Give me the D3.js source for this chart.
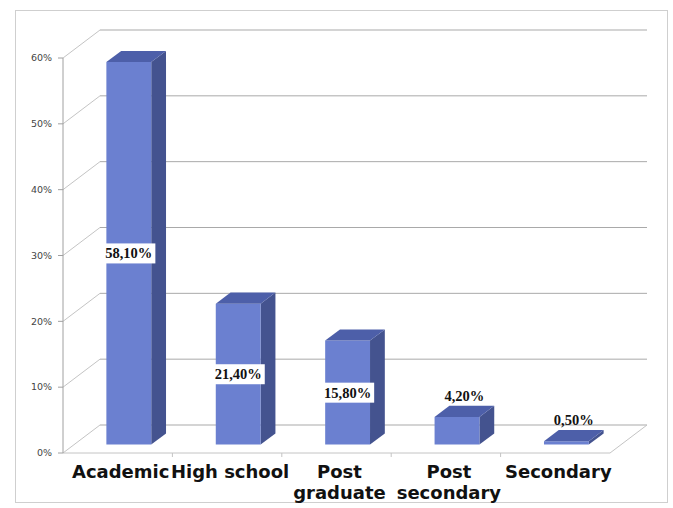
<!DOCTYPE html>
<html>
<head>
<meta charset="utf-8">
<script src="https://cdn.jsdelivr.net/npm/d3@7"></script>
<style>
  body { margin: 0; background: #fff; }
</style>
</head>
<body>
<script>
const WIDTH = 673;
const HEIGHT = 508;

// data
const categories = ["Academic", "High school", "Post graduate", "Post secondary", "Secondary"];
const categoryLines = [["Academic"], ["High school"], ["Post", "graduate"], ["Post", "secondary"], ["Secondary"]];
const values = [58.1, 21.4, 15.8, 4.2, 0.5];
const yTicks = [0, 10, 20, 30, 40, 50, 60];

const svg = d3.select("body").append("svg")
  .attr("width", WIDTH)
  .attr("height", HEIGHT);

// outer frame
svg.append("rect")
  .attr("x", 15.5).attr("y", 10.5)
  .attr("width", 652).attr("height", 492)
  .attr("fill", "#fff")
  .attr("stroke", "#cfcfcf");

// scales
const x = d3.scaleBand()
  .domain(categories)
  .range([63, 610])
  .paddingInner(0.59)
  .paddingOuter(0.295);

const y = d3.scaleLinear().domain([0, 60]).range([453, 58]);

// depth of the 3d box, z from 0 (front) to 1 (back wall)
const depthX = d3.scaleLinear().domain([0, 1]).range([0, 37]);
const depthY = d3.scaleLinear().domain([0, 1]).range([0, 28]);
const pt = (px, v, z) => [px + depthX(z), y(v) - depthY(z)];

const BAR_FRONT = 0.3;
const BAR_BACK = 0.7;

const grid = svg.append("g");
const x0 = x.range()[0];
const x1 = x.range()[1];

// gridlines: diagonal on the side wall, then along the back wall
yTicks.forEach(t => {
  const a = pt(x0, t, 0), b = pt(x0, t, 1), c = pt(x1, t, 1);
  grid.append("line")
    .attr("x1", a[0]).attr("y1", a[1]).attr("x2", b[0]).attr("y2", b[1])
    .attr("stroke", "#c4c4c4");
  grid.append("line")
    .attr("x1", b[0]).attr("y1", b[1]).attr("x2", c[0]).attr("y2", c[1])
    .attr("stroke", "#a9a9a9");
});

// floor front and right edge
const f0 = pt(x0, 0, 0), f1 = pt(x1, 0, 0), f2 = pt(x1, 0, 1);
grid.append("polyline")
  .attr("points", [f0, f1, f2].map(p => p.join(",")).join(" "))
  .attr("fill", "none")
  .attr("stroke", "#c4c4c4");

// vertical axis line
svg.append("line")
  .attr("x1", x0).attr("x2", x0)
  .attr("y1", y(0)).attr("y2", y(60))
  .attr("stroke", "#a0a0a0");

// y ticks and labels
const yAxis = svg.append("g");
yTicks.forEach(t => {
  yAxis.append("line")
    .attr("x1", x0 - 5).attr("x2", x0)
    .attr("y1", y(t)).attr("y2", y(t))
    .attr("stroke", "#a0a0a0");
  yAxis.append("text")
    .attr("x", x0 - 11)
    .attr("y", y(t))
    .attr("dy", "0.35em")
    .attr("text-anchor", "end")
    .attr("font-family", "DejaVu Sans, sans-serif")
    .attr("font-size", 9.5)
    .attr("fill", "#444")
    .text(t + "%");
});

// x category boundary ticks
x.domain().forEach((c, i) => {
  if (i === 0) return;
  const bx = x0 + i * x.step();
  svg.append("line")
    .attr("x1", bx).attr("x2", bx)
    .attr("y1", y(0)).attr("y2", y(0) + 4)
    .attr("stroke", "#c4c4c4");
});

// 3d bars
const poly = pts => pts.map(p => p.join(",")).join(" ");
const bars = svg.append("g");
categories.forEach((c, i) => {
  const v = values[i];
  const l = x(c), r = x(c) + x.bandwidth();
  const front = [pt(l, 0, BAR_FRONT), pt(r, 0, BAR_FRONT), pt(r, v, BAR_FRONT), pt(l, v, BAR_FRONT)];
  const side = [pt(r, 0, BAR_FRONT), pt(r, 0, BAR_BACK), pt(r, v, BAR_BACK), pt(r, v, BAR_FRONT)];
  const top = [pt(l, v, BAR_FRONT), pt(r, v, BAR_FRONT), pt(r, v, BAR_BACK), pt(l, v, BAR_BACK)];
  bars.append("polygon").attr("points", poly(side)).attr("fill", "#44538f");
  bars.append("polygon").attr("points", poly(front)).attr("fill", "#6b80d0");
  bars.append("polygon").attr("points", poly(top)).attr("fill", "#4d5fa9");
});

// value labels
const fmt = v => d3.format(".2f")(v).replace(".", ",") + "%";
const labels = svg.append("g");
categories.forEach((c, i) => {
  const v = values[i];
  const frontH = y(0) - y(v);
  let lx, ly;
  const inside = frontH > 40;
  if (inside) {
    lx = x(c) + x.bandwidth() / 2 + depthX(BAR_FRONT);
    ly = (y(0) + y(v)) / 2 - depthY(BAR_FRONT);
  } else {
    lx = x(c) + x.bandwidth() / 2 + depthX((BAR_FRONT + BAR_BACK) / 2);
    ly = y(v) - depthY(BAR_BACK) - 10;
  }
  const g = labels.append("g");
  const txt = g.append("text")
    .attr("x", lx).attr("y", ly)
    .attr("dy", "0.35em")
    .attr("text-anchor", "middle")
    .attr("font-family", "Liberation Serif, serif")
    .attr("font-weight", "bold")
    .attr("font-size", 14.5)
    .attr("fill", "#111")
    .text(fmt(v));
  if (inside) {
    const bb = txt.node().getBBox();
    g.insert("rect", "text")
      .attr("x", bb.x - 3).attr("y", bb.y - 2)
      .attr("width", bb.width + 6).attr("height", bb.height + 4)
      .attr("fill", "#fff");
  }
});

// category labels
const xLabels = svg.append("g");
categories.forEach((c, i) => {
  const cx = x(c) + x.bandwidth() / 2 + 3;
  const t = xLabels.append("text")
    .attr("x", cx)
    .attr("y", 478)
    .attr("text-anchor", "middle")
    .attr("font-family", "DejaVu Sans, sans-serif")
    .attr("font-weight", "bold")
    .attr("font-size", 18)
    .attr("fill", "#111");
  categoryLines[i].forEach((line, k) => {
    t.append("tspan")
      .attr("x", cx)
      .attr("dy", k === 0 ? 0 : 21)
      .text(line);
  });
});
</script>
</body>
</html>
